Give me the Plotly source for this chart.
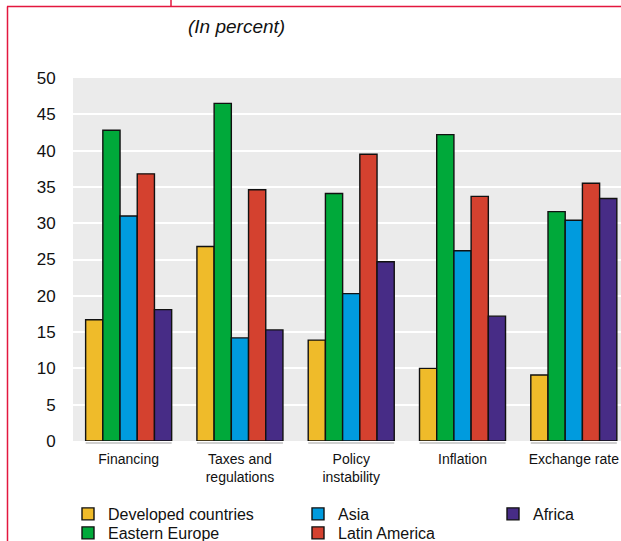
import plotly.graph_objects as go

categories = ["Financing", "Taxes and<br>regulations", "Policy<br>instability", "Inflation", "Exchange rate"]
developed = [16.7, 26.8, 13.9, 10.0, 9.1]
eastern_europe = [42.8, 46.5, 34.1, 42.2, 31.6]
asia = [31.0, 14.2, 20.3, 26.2, 30.4]
latin_america = [36.8, 34.6, 39.5, 33.7, 35.5]
africa = [18.1, 15.3, 24.7, 17.2, 33.4]

series = [
    ("Developed countries", developed, "#efbb2a"),
    ("Eastern Europe", eastern_europe, "#00a93a"),
    ("Asia", asia, "#009bde"),
    ("Latin America", latin_america, "#d4412f"),
    ("Africa", africa, "#472c86"),
]

W, H = 621, 541
L, R, T, B = 73, 0, 78, 100
PW = W - L - R
PH = H - T - B
FONT = "Liberation Sans"
RED = "#e3173e"

def px(x):
    return (x - L) / PW

def py(y):
    return (H - B - y) / PH

# legend slot (left pixel, top pixel) for each series
legend_slots = [(68, 497), (68, 516), (298, 497), (298, 516), (493, 497)]
legend_names = ["legend", "legend2", "legend3", "legend4", "legend5"]

fig = go.Figure()
for (name, vals, color), leg in zip(series, legend_names):
    fig.add_trace(go.Bar(
        x=categories, y=vals, name=name, legend=leg, showlegend=True,
        marker=dict(color=color, line=dict(color="#111111", width=1.4)),
    ))

BARGAP = 0.227
shapes = []
for i in range(len(categories)):
    shapes.append(dict(type="line", xref="x", yref="paper",
                       x0=i - (1 - BARGAP) / 2, x1=i + (1 - BARGAP) / 2,
                       y0=py(443), y1=py(443),
                       line=dict(color="#cfcfcf", width=2)))
# red frame
shapes += [
    dict(type="line", xref="paper", yref="paper", x0=px(7.5), x1=px(7.5), y0=py(6.5), y1=py(545),
         line=dict(color=RED, width=1.5)),
    dict(type="line", xref="paper", yref="paper", x0=px(7), x1=px(625), y0=py(6.5), y1=py(6.5),
         line=dict(color=RED, width=1.5)),
    dict(type="line", xref="paper", yref="paper", x0=px(171), x1=px(171), y0=py(-3), y1=py(6.5),
         line=dict(color=RED, width=1.5)),
]

legend_common = dict(orientation="v", bgcolor="rgba(0,0,0,0)", font=dict(family=FONT, size=16, color="#111"),
                     xanchor="left", yanchor="top", tracegroupgap=0, itemclick=False)
legend_layout = {}
for leg, (lx, ly) in zip(legend_names, legend_slots):
    legend_layout[leg] = dict(x=px(lx), y=py(ly), **legend_common)

fig.update_layout(
    width=W, height=H,
    showlegend=True,
    margin=dict(l=L, r=R, t=T, b=B, pad=0, autoexpand=False),
    paper_bgcolor="white",
    plot_bgcolor="#ebebeb",
    barmode="group", bargap=BARGAP, bargroupgap=0,
    font=dict(family=FONT, color="#111"),
    shapes=shapes,
    xaxis=dict(type="category", range=[-0.5, 4.424], showgrid=False, zeroline=False,
               ticks="outside", ticklen=5, tickcolor="rgba(0,0,0,0)",
               tickfont=dict(family=FONT, size=14, color="#111")),
    yaxis=dict(range=[0, 50], dtick=5, showgrid=True, gridcolor="white", gridwidth=2,
               zeroline=False, ticks="outside", ticklen=13, tickcolor="rgba(0,0,0,0)",
               tickfont=dict(family=FONT, size=17, color="#111")),
    annotations=[dict(text="<i>(In percent)</i>", xref="paper", yref="paper",
                      x=px(186), y=py(26), xanchor="left", yanchor="middle", showarrow=False,
                      font=dict(family=FONT, size=19, color="#111"))],
    **legend_layout,
)

fig.write_html("out.html")
